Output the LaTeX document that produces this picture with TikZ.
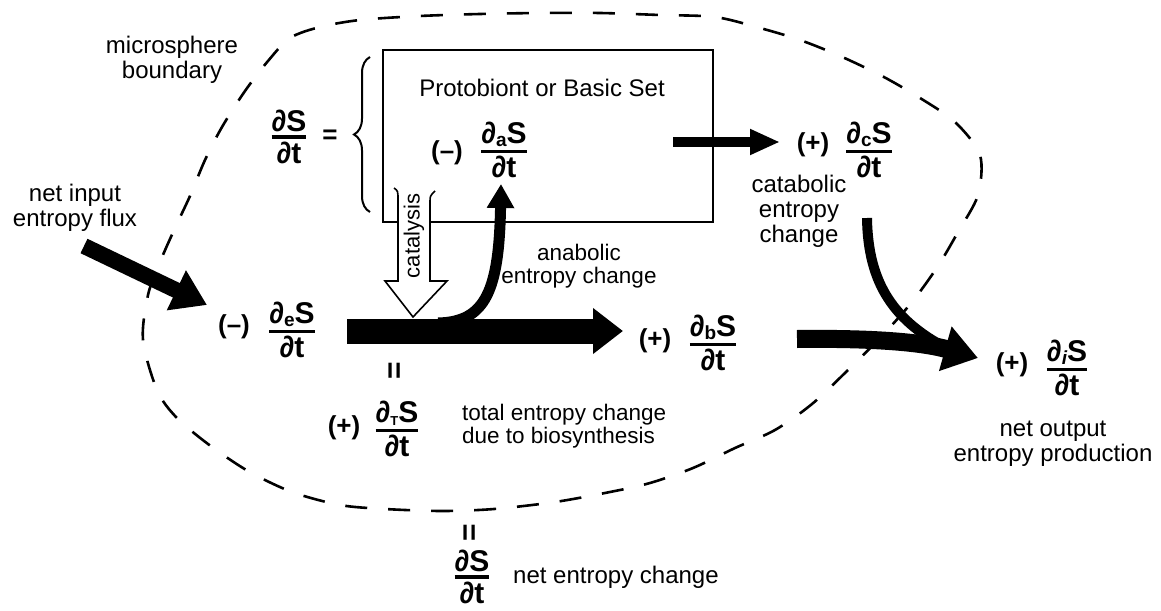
\documentclass[tikz,border=0pt]{standalone}
\usepackage{amsmath}
\usepackage{graphicx}
\usepackage{fontspec}
\setmainfont{Liberation Sans}
\usetikzlibrary{arrows.meta,decorations.pathreplacing}
\newcommand{\fr}[2]{$\genfrac{}{}{3.2pt}{1}{\mbox{\bfseries #1}}{\mbox{\bfseries #2}}$}
\newcommand{\sbs}[1]{\raisebox{-3pt}{\fontsize{19}{19}\selectfont #1}}
\tikzset{
  lbl/.style={font=\fontsize{24}{25}\selectfont, align=center, inner sep=0pt},
  slbl/.style={font=\fontsize{22.5}{22.5}\selectfont, align=center, inner sep=0pt},
  eq/.style={font=\fontsize{26}{30}\selectfont\bfseries, inner sep=0pt},
  frc/.style={font=\fontsize{30}{34}\selectfont\bfseries, inner sep=0pt},
  veq/.style={font=\fontsize{30}{30}\selectfont\bfseries, inner sep=0pt, rotate=90},
  boundary/.style={line width=2.6pt, dash pattern=on 22pt off 21pt},
  fat/.style={line cap=butt, draw=black},
}
\begin{document}
\begin{tikzpicture}[x=1pt,y=-1pt]
\useasboundingbox (0,0) rectangle (1161,610);

% microsphere boundary
\draw[boundary] plot[smooth cycle] coordinates {
 (143,340) (148,295) (160,262) (175,228) (190,196) (205,160) (222,127)
 (245,91) (268,61) (290,38) (320,27) (360,20) (420,16) (480,14) (540,13)
 (600,13) (660,15) (715,17) (760,28) (800,40) (840,56) (882,76) (920,98)
 (955,122) (980,155) (978,195) (958,232) (938,266) (912,302) (880,338)
 (848,370) (812,404) (775,430) (735,448) (693,468) (650,483) (610,492)
 (555,502) (494,509) (442,511) (385,509) (340,505) (292,492) (248,471)
 (208,444) (176,417) (157,390)};

% labels
\node[lbl] (mb) at (172,60) {microsphere\\boundary};
\node[lbl] (nin) at (75,208) {net input\\entropy flux};

% box
\node[draw, line width=2pt, minimum width=330pt, minimum height=172pt, inner sep=0pt] (box) at (548,136) {};
\node[lbl] (pb) at (542,88) {Protobiont or Basic Set};

% brace and total derivative
\draw[line width=2pt, decorate, decoration={brace, amplitude=16pt}] (370,212) -- (370,57);
\node[frc] (S0) at (289,137) {\fr{∂S}{∂t}};
\node[eq] (eq0) at (330,137) {=};

% anabolic
\node[eq] (am) at (447,153) {(–)};
\node[frc] (a) at (504,150) {\fr{∂\sbs{a}S}{∂t}};

% catabolic
\node[eq] (cp) at (813,145) {(+)};
\node[frc] (c) at (869,150) {\fr{∂\sbs{c}S}{∂t}};
\node[lbl] (catl) at (799,211) {catabolic\\entropy\\change};

% e
\node[eq] (em) at (234,327) {(–)};
\node[frc] (e) at (292,330) {\fr{∂\sbs{e}S}{∂t}};

% b
\node[eq] (bp) at (655,341) {(+)};
\node[frc] (b) at (713,343) {\fr{∂\sbs{b}S}{∂t}};

% i
\node[eq] (ip) at (1012,365) {(+)};
\node[frc] (i) at (1067,368) {\fr{∂\sbs{\itshape i}S}{∂t}};
\node[lbl] (nout) at (1053,444) {net output\\entropy production};

% T
\node[veq] (eqT) at (397,371) {=};
\node[eq] (Tp) at (344,428) {(+)};
\node[frc] (T) at (397,429) {\fr{∂\sbs{\fontsize{13}{13}\selectfont T}S}{∂t}};
\node[slbl, anchor=west, align=left] (tl) at (462,426) {total entropy change\\due to biosynthesis};

% net
\node[veq] (eqN) at (472,533) {=};
\node[frc] (N) at (472,577) {\fr{∂S}{∂t}};
\node[lbl, anchor=west] (nl) at (513,577) {net entropy change};

% anabolic label
\node[slbl] (anl) at (579,266) {anabolic\\entropy change};

% catalysis hollow arrow
\fill[white] (398,192) -- (398,281) -- (385,281) -- (413,317) -- (447,281) -- (430,281) -- (430,195) -- cycle;
\draw[line width=1.6pt] (394,188) .. controls (398,191) .. (398,200) -- (398,281) -- (385,281) -- (413,317) -- (447,281) -- (430,281) -- (430,202) .. controls (430,196) .. (435,191);
\node[font=\fontsize{22}{22}\selectfont, rotate=90, inner sep=0pt] (cat) at (414,236) {catalysis};

% coordinates of thick arrows
\coordinate (inS) at (84,246);
\coordinate (inE) at (207,305);
\coordinate (mbS) at (347,331);
\coordinate (mbE) at (623,331);
\coordinate (anS) at (438,323);
\coordinate (anE) at (501,184);
\coordinate (ctS) at (673,142);
\coordinate (ctE) at (780,142);
\coordinate (brS) at (797,339);
\coordinate (brE) at (978,358);
\coordinate (ccS) at (867,218);
\coordinate (ccE) at (950,350);

% arrows
\draw[fat, line width=16pt, -{Triangle[length=34pt,width=42pt]}] (inS) -- (inE);
\draw[fat, line width=25pt, -{Triangle[length=30pt,width=44pt]}] (mbS) -- (mbE);
\draw[fat, line width=11pt, -{Triangle[length=24pt,width=26pt]}] (anS) .. controls (486,322) and (499,290) .. (anE);
\draw[fat, line width=10pt, -{Triangle[length=30pt,width=24pt]}] (ctS) -- (ctE);
\draw[fat, line width=10pt] (ccS) .. controls (868,285) and (895,322) .. (ccE);
\draw[fat, line width=18pt, -{Triangle[length=34pt,width=44pt]}] (brS) .. controls (880,338) and (925,343) .. (brE);
\end{tikzpicture}
\end{document}
